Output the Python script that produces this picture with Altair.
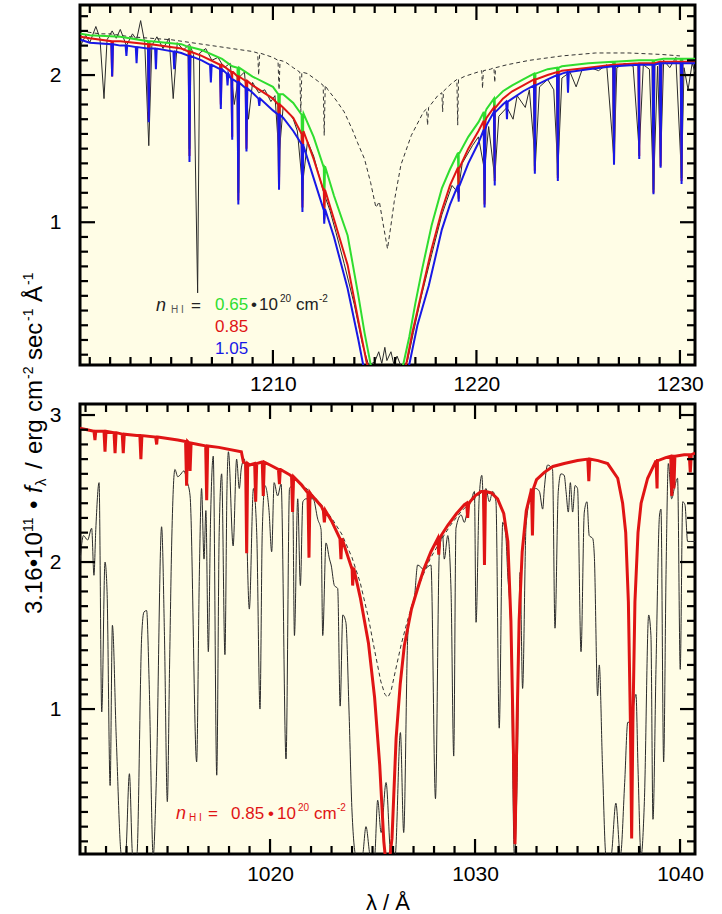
import altair as alt
import pandas as pd

# ---------------- top panel (Ly alpha) ----------------
TOP_X_DOMAIN = [1200.52, 1230.74]
TOP_Y_DOMAIN = [0.03, 2.476]

GREEN_TOP = [(1200.55,2.28),(1201,2.27),(1202.5,2.26),(1204,2.23),(1205.5,2.21),(1206.5,2.17),(1207.5,2.11),(1208,2.06),(1209,1.99),(1210,1.92),(1210.5,1.87),(1211,1.81),(1211.5,1.74),(1212,1.58),(1212.5,1.39),(1213,1.18),(1213.67,0.91),(1214.2,0.50),(1214.5,0.25),(1214.85,0.0),(1216.35,0.0),(1216.7,0.22),(1217.0,0.45),(1217.33,0.68),(1217.8,0.98),(1218.3,1.23),(1218.7,1.36),(1219.13,1.47),(1219.6,1.58),(1220.1,1.68),(1220.5,1.77),(1220.9,1.84),(1221.3,1.89),(1221.76,1.93),(1222.3,1.97),(1222.9,2.01),(1223.5,2.04),(1224.2,2.06),(1225.5,2.08),(1226.7,2.09),(1228,2.10),(1229.2,2.11),(1230.74,2.11)]
RED_TOP = [(1200.55,2.26),(1201,2.25),(1202.5,2.23),(1204,2.21),(1205.5,2.18),(1206.5,2.13),(1207.5,2.07),(1208,2.02),(1209,1.93),(1210,1.84),(1210.5,1.78),(1211,1.71),(1211.5,1.62),(1212,1.43),(1212.5,1.23),(1213,1.02),(1213.67,0.71),(1214.2,0.33),(1214.6,0.05),(1214.7,0.0),(1216.5,0.0),(1216.85,0.25),(1217.3,0.52),(1217.8,0.82),(1218.3,1.08),(1218.7,1.25),(1219.13,1.37),(1219.6,1.50),(1220.1,1.62),(1220.5,1.71),(1220.9,1.78),(1221.3,1.84),(1221.76,1.89),(1222.3,1.93),(1222.9,1.97),(1223.5,2.00),(1224.2,2.03),(1225.5,2.05),(1226.7,2.07),(1228,2.08),(1229.2,2.09),(1230.74,2.09)]
BLUE_TOP = [(1200.55,2.24),(1201,2.22),(1202.5,2.20),(1204,2.18),(1205.5,2.15),(1206.5,2.10),(1207.5,2.04),(1208,1.97),(1209,1.88),(1210,1.76),(1210.5,1.71),(1211,1.62),(1211.5,1.52),(1212,1.30),(1212.5,1.09),(1213,0.90),(1213.67,0.55),(1214.2,0.20),(1214.45,0.02),(1214.5,0.0),(1216.65,0.0),(1217.1,0.30),(1217.66,0.57),(1218.3,0.95),(1218.7,1.12),(1219.13,1.25),(1219.6,1.40),(1220.1,1.54),(1220.5,1.66),(1220.9,1.75),(1221.3,1.80),(1221.76,1.84),(1222.3,1.89),(1222.9,1.93),(1223.5,1.97),(1224.2,2.01),(1225.5,2.04),(1226.7,2.06),(1228,2.07),(1229.2,2.08),(1230.74,2.08)]

# narrow absorption lines: (wavelength, shoulder flux, minimum flux)
BLUE_DIPS = [(1202.1,2.21,1.99),(1202.8,2.20,2.13),(1203.3,2.19,2.08),(1203.9,2.18,1.68),(1204.25,2.18,2.04),(1205.15,2.16,2.04),(1205.9,2.13,1.41),(1206.95,2.07,1.95),(1207.44,2.04,1.77),(1207.77,2.01,1.93),(1208.0,1.97,1.56),(1208.3,1.95,1.12),(1208.7,1.91,1.48),(1209.33,1.84,1.79),(1210.3,1.73,1.22),(1211.45,1.53,1.07),(1212.52,1.09,0.99),(1219.13,1.25,1.14),(1220.4,1.63,1.10),(1220.9,1.75,1.25),(1221.5,1.82,1.70),(1222.87,1.93,1.33),(1224.0,2.00,1.28),(1224.5,2.02,1.88),(1226.76,2.06,1.39),(1228.0,2.07,1.43),(1228.7,2.07,1.19),(1229.05,2.08,1.37),(1230.08,2.08,1.26)]
RED_DIPS = [(1202.1,2.23,1.99),(1203.9,2.21,1.70),(1205.9,2.16,1.45),(1207.44,2.07,1.80),(1208.0,2.02,1.58),(1208.3,1.99,1.15),(1208.7,1.96,1.50),(1210.3,1.80,1.25),(1211.45,1.60,1.10),(1212.52,1.22,1.02),(1219.13,1.37,1.16),(1220.4,1.69,1.12),(1220.9,1.78,1.28),(1222.87,1.97,1.35),(1224.0,2.02,1.30),(1226.76,2.07,1.40),(1228.0,2.08,1.45),(1228.7,2.08,1.20),(1229.05,2.09,1.38),(1230.08,2.09,1.28)]
GREEN_DIPS = [(1203.9,2.23,1.75),(1205.9,2.19,1.50),(1208.3,2.05,1.20),(1210.3,1.87,1.30),(1211.45,1.73,1.15),(1212.52,1.38,1.10),(1219.13,1.47,1.20),(1220.4,1.75,1.15),(1220.9,1.84,1.30),(1222.87,2.01,1.38),(1224.0,2.05,1.32),(1226.76,2.09,1.42),(1228.7,2.10,1.22),(1230.08,2.11,1.30)]

DASHED_TOP = [(1200.55,2.30),(1201.0,2.29),(1201.5,2.28),(1202,2.28),(1203,2.26),(1204,2.25),(1205,2.24),(1206,2.22),(1207,2.20),(1208,2.18),(1209,2.16),(1209.25,2.15),(1209.3,2.00),(1209.35,2.15),(1210,2.12),(1210.25,2.10),(1210.3,1.90),(1210.35,2.10),(1210.6,2.09),(1211.0,2.05),(1211.32,2.02),(1211.37,1.75),(1211.42,2.02),(1211.7,2.01),(1212.2,1.96),(1212.47,1.93),(1212.52,1.59),(1212.57,1.93),(1212.7,1.90),(1213.1,1.83),(1213.5,1.75),(1213.9,1.63),(1214.16,1.54),(1214.5,1.43),(1214.8,1.27),(1215.06,1.10),(1215.23,1.14),(1215.4,1.00),(1215.63,0.82),(1215.8,0.98),(1215.96,1.14),(1216.29,1.39),(1216.8,1.59),(1217.4,1.75),(1217.55,1.77),(1217.6,1.66),(1217.65,1.78),(1218.1,1.86),(1218.3,1.88),(1218.34,1.75),(1218.38,1.89),(1218.75,1.94),(1219.04,1.97),(1219.08,1.66),(1219.12,1.97),(1219.4,1.99),(1220.06,2.02),(1220.26,2.03),(1220.3,1.91),(1220.34,2.03),(1220.7,2.04),(1220.86,2.05),(1220.9,1.95),(1220.94,2.05),(1221.5,2.07),(1222.6,2.10),(1224.2,2.13),(1225.85,2.15),(1227.5,2.15),(1229.1,2.14),(1230.0,2.13)]

BLACK_TOP = [(1200.55,2.20),(1200.8,2.27),(1201.0,2.22),(1201.3,2.33),(1201.5,2.25),(1201.7,1.84),(1201.85,2.24),(1202.1,2.30),(1202.3,2.25),(1202.5,2.31),(1202.8,2.20),(1203.1,2.28),(1203.3,2.24),(1203.5,2.37),(1203.7,2.22),(1203.9,1.52),(1204.05,2.20),(1204.3,2.26),(1204.6,2.18),(1204.9,2.25),(1205.1,1.84),(1205.3,2.22),(1205.6,2.17),(1205.9,2.21),(1206.1,2.14),(1206.3,0.52),(1206.4,2.15),(1206.7,2.18),(1207.0,2.10),(1207.3,2.12),(1207.6,2.05),(1207.9,2.08),(1208.1,1.80),(1208.3,1.98),(1208.6,2.02),(1208.8,1.70),(1209.0,1.95),(1209.3,1.88),(1209.6,1.90),(1209.9,1.82),(1210.1,1.86),(1210.3,1.45),(1210.5,1.78),(1210.8,1.74),(1211.0,1.70),(1211.2,1.62),(1211.45,1.25),(1211.7,1.55),(1212.0,1.45),(1212.3,1.30),(1212.5,1.20),(1212.8,1.08),(1213.1,0.93),(1213.5,0.72),(1214.0,0.44),(1214.4,0.17),(1214.7,0.03),(1215.0,0.05),(1215.2,0.12),(1215.35,0.04),(1215.5,0.15),(1215.6,0.06),(1215.8,0.12),(1215.95,0.03),(1216.1,0.09),(1216.3,0.02),(1216.6,0.05),(1216.9,0.25),(1217.3,0.50),(1217.8,0.78),(1218.3,1.05),(1218.8,1.25),(1219.1,1.20),(1219.3,1.40),(1219.8,1.52),(1220.1,1.58),(1220.4,1.35),(1220.6,1.65),(1220.9,1.30),(1221.1,1.72),(1221.5,1.78),(1221.8,1.70),(1222.0,1.86),(1222.4,1.78),(1222.6,1.90),(1222.9,1.40),(1223.1,1.92),(1223.5,1.97),(1223.8,1.90),(1224.0,1.35),(1224.2,1.98),(1224.6,2.02),(1224.9,1.92),(1225.2,2.04),(1225.6,2.05),(1226.0,2.03),(1226.4,2.07),(1226.76,1.42),(1226.9,2.05),(1227.3,2.08),(1227.7,2.06),(1228.0,1.48),(1228.2,2.07),(1228.5,2.04),(1228.7,1.22),(1228.9,2.06),(1229.05,1.40),(1229.2,2.10),(1229.5,2.05),(1229.8,2.12),(1230.08,1.30),(1230.2,2.05),(1230.4,1.90),(1230.6,2.08),(1230.74,2.02)]

TOP_X_MAJOR = [1210, 1220, 1230]
TOP_X_MINOR = [v for v in range(1201, 1231) if v % 10 != 0]
TOP_Y_MAJOR = [1, 2]
TOP_Y_MINOR = [round(0.1 * i, 1) for i in range(1, 25) if i % 10 != 0]

# ---------------- bottom panel (Ly beta) ----------------
BOT_X_DOMAIN = [1010.73, 1040.73]
BOT_Y_DOMAIN = [0.014, 3.075]

RED_BOT = [(1010.73,2.91),(1011.5,2.89),(1012.5,2.88),(1013.5,2.86),(1014.5,2.85),(1015.5,2.83),(1016.5,2.80),(1017.5,2.78),(1018.6,2.75),(1018.7,2.68),(1019.0,2.66),(1019.6,2.68),(1020.0,2.66),(1020.5,2.63),(1021.0,2.59),(1021.5,2.53),(1022.0,2.46),(1022.5,2.38),(1023.0,2.28),(1023.5,2.15),(1024.0,1.97),(1024.4,1.76),(1024.8,1.45),(1025.1,1.08),(1025.35,0.62),(1025.55,0.10),(1025.62,0.0),(1025.85,0.0),(1025.95,0.12),(1026.15,0.80),(1026.35,1.17),(1026.55,1.43),(1026.9,1.68),(1027.2,1.82),(1027.5,1.95),(1027.85,2.07),(1028.3,2.17),(1028.67,2.25),(1029.1,2.33),(1029.48,2.39),(1030.0,2.45),(1030.3,2.48),(1030.8,2.47),(1031.1,2.43),(1031.4,2.33),(1031.6,2.14),(1031.75,1.6),(1031.85,0.9),(1031.95,0.08),(1032.05,0.9),(1032.15,1.6),(1032.3,2.07),(1032.5,2.35),(1032.73,2.48),(1033.0,2.56),(1033.38,2.61),(1033.8,2.65),(1034.35,2.67),(1035.0,2.69),(1035.5,2.70),(1036.0,2.69),(1036.47,2.67),(1036.96,2.57),(1037.2,2.40),(1037.35,2.20),(1037.48,1.73),(1037.58,0.9),(1037.64,0.12),(1037.7,0.9),(1037.8,1.73),(1037.95,2.2),(1038.1,2.40),(1038.42,2.57),(1038.9,2.69),(1039.3,2.71),(1039.64,2.72),(1040.2,2.73),(1040.73,2.74)]
RED_BOT_DIPS = [(1011.46,2.89,2.83),(1011.95,2.89,2.75),(1012.44,2.88,2.74),(1012.84,2.87,2.74),(1013.7,2.86,2.70),(1014.47,2.85,2.80),(1015.93,2.82,2.52),(1016.1,2.81,2.62),(1016.91,2.79,2.42),(1018.86,2.67,2.06),(1019.3,2.67,2.41),(1019.67,2.68,2.45),(1020.46,2.63,2.53),(1021.1,2.58,2.34),(1021.9,2.47,2.03),(1022.65,2.35,2.27),(1023.46,2.16,2.02),(1024.03,1.96,1.84),(1028.23,2.16,2.05),(1029.64,2.40,2.30),(1030.46,2.48,1.98),(1032.8,2.50,2.18),(1035.55,2.70,2.55),(1038.88,2.69,2.50),(1039.6,2.72,2.45),(1039.7,2.72,2.50),(1040.5,2.73,2.61)]

DASHED_BOT = [(1021.5,2.54),(1022.0,2.47),(1022.5,2.39),(1023.0,2.30),(1023.5,2.19),(1024.0,2.03),(1024.4,1.86),(1024.8,1.62),(1025.1,1.40),(1025.4,1.19),(1025.6,1.10),(1025.75,1.08),(1025.9,1.12),(1026.1,1.25),(1026.4,1.44),(1026.7,1.60),(1027.0,1.74),(1027.4,1.89),(1027.8,2.02),(1028.3,2.14),(1028.8,2.25),(1029.3,2.34),(1029.8,2.41),(1030.3,2.47)]

BLACK_BOT = [(1010.73,2.00),(1010.9,2.18),(1011.1,2.15),(1011.3,2.23),(1011.41,1.91),(1011.5,2.22),(1011.66,2.54),(1011.79,0.98),(1011.95,2.00),(1012.05,1.80),(1012.2,0.48),(1012.31,1.57),(1012.5,0.8),(1012.76,0.0),(1012.95,0.0),(1013.14,0.56),(1013.3,0.0),(1013.5,0.0),(1013.74,1.50),(1013.85,1.66),(1013.98,1.67),(1014.1,1.2),(1014.3,0.0),(1014.45,0.5),(1014.71,2.24),(1014.85,1.5),(1014.99,0.37),(1015.1,1.3),(1015.2,2.11),(1015.36,2.63),(1015.5,2.58),(1015.6,2.59),(1015.8,2.62),(1015.95,2.55),(1016.1,2.45),(1016.42,0.64),(1016.55,1.9),(1016.66,2.50),(1016.78,2.02),(1016.87,2.35),(1016.99,1.39),(1017.1,2.3),(1017.23,2.72),(1017.4,0.55),(1017.52,2.2),(1017.64,2.60),(1017.8,1.37),(1017.9,2.5),(1017.97,2.75),(1018.2,2.11),(1018.37,2.70),(1018.5,2.50),(1018.6,2.64),(1018.75,2.70),(1018.99,1.68),(1019.19,2.50),(1019.35,2.2),(1019.51,1.00),(1019.62,2.2),(1019.75,2.52),(1019.95,2.35),(1020.08,2.07),(1020.2,2.54),(1020.37,2.45),(1020.54,2.53),(1020.78,0.66),(1020.95,2.50),(1021.1,2.52),(1021.19,1.50),(1021.35,2.43),(1021.48,1.84),(1021.6,2.41),(1021.75,2.43),(1022.1,2.43),(1022.33,2.29),(1022.49,2.22),(1022.57,1.50),(1022.73,2.13),(1022.9,2.02),(1022.98,1.98),(1023.14,1.84),(1023.3,1.82),(1023.42,1.02),(1023.55,1.64),(1023.7,1.59),(1023.85,1.0),(1024.0,0.3),(1024.2,0.0),(1024.5,0.0),(1024.68,0.2),(1024.9,0.0),(1025.1,0.0),(1025.25,0.38),(1025.42,0.16),(1025.66,0.50),(1025.9,0.0),(1026.1,0.0),(1026.36,0.84),(1026.52,0.16),(1026.72,1.50),(1026.88,1.68),(1027.05,1.77),(1027.2,1.98),(1027.5,1.95),(1027.85,1.98),(1028.07,0.39),(1028.26,2.07),(1028.42,2.18),(1028.5,2.02),(1028.67,2.18),(1028.83,1.80),(1028.96,0.68),(1029.07,2.23),(1029.32,2.32),(1029.48,2.27),(1029.64,2.36),(1029.8,2.41),(1029.97,2.48),(1030.05,1.59),(1030.2,2.43),(1030.33,2.59),(1030.45,2.29),(1030.53,2.50),(1030.7,2.41),(1030.86,2.48),(1031.02,2.41),(1031.18,0.87),(1031.35,2.27),(1031.5,2.18),(1031.59,1.93),(1031.75,1.5),(1031.92,0.0),(1032.05,0.5),(1032.2,1.93),(1032.32,1.14),(1032.49,2.25),(1032.73,2.45),(1032.97,2.50),(1033.14,2.48),(1033.3,2.36),(1033.38,2.50),(1033.54,2.66),(1033.78,2.63),(1033.9,1.55),(1034.06,2.48),(1034.19,2.60),(1034.35,2.59),(1034.44,2.48),(1034.55,2.34),(1034.65,2.54),(1034.76,2.34),(1034.88,2.52),(1035.0,2.50),(1035.17,1.39),(1035.33,2.34),(1035.46,2.41),(1035.57,2.18),(1035.74,2.16),(1035.82,2.04),(1035.98,1.09),(1036.06,1.30),(1036.22,0.6),(1036.39,0.0),(1036.63,0.0),(1036.87,0.36),(1037.09,0.0),(1037.3,0.5),(1037.45,0.91),(1037.58,0.91),(1037.85,1.10),(1037.95,0.6),(1038.1,0.0),(1038.26,0.37),(1038.47,1.64),(1038.58,1.5),(1038.68,0.25),(1038.83,1.3),(1039.0,2.32),(1039.07,2.36),(1039.2,0.64),(1039.32,1.95),(1039.43,2.67),(1039.59,2.43),(1039.72,2.50),(1039.88,2.57),(1040.01,1.27),(1040.13,2.41),(1040.24,2.39),(1040.37,2.14),(1040.53,2.14),(1040.73,2.14)]

BOT_X_MAJOR = [1020, 1030, 1040]
BOT_X_MINOR = [v for v in range(1011, 1041) if v % 10 != 0]
BOT_Y_MAJOR = [1, 2, 3]
BOT_Y_MINOR = [round(0.1 * i, 1) for i in range(1, 31) if i % 10 != 0]

FONT = "Liberation Sans"
CREAM = "#FFFDE6"
GREEN = "#2FDD2F"
RED = "#E01414"
BLUE = "#1818E6"
BLACK_LINE = "#2a2a2a"

TOP_W, TOP_H = 615, 360
BOT_W, BOT_H = 615, 450


def with_dips(cont, dips, hw):
    pts = list(cont)
    for lam, sh, mn in dips:
        pts += [(lam - hw, sh), (lam, mn), (lam + hw, sh)]
    pts.sort()
    return pd.DataFrame(pts, columns=["wl", "f"])


def df_of(pts):
    return pd.DataFrame(sorted(pts), columns=["wl", "f"])


def line(df, xs, ys, ax, ay, color, width, dash=None, interp="linear"):
    kw = dict(color=color, strokeWidth=width, clip=True, interpolate=interp)
    if dash:
        kw["strokeDash"] = dash
    return alt.Chart(df).mark_line(**kw).encode(
        x=alt.X("wl:Q", scale=xs, axis=ax),
        y=alt.Y("f:Q", scale=ys, axis=ay),
        order="wl:Q",
    )


def tick_layers(xs, ys, ax, ay, W, H, xmaj, xmin, ymaj, ymin):
    layers = []
    for vals, L in [(xmin, 8), (xmaj, 15)]:
        base = alt.Chart(pd.DataFrame({"wl": vals})).mark_rule(color="black", strokeWidth=2.2)
        X = alt.X("wl:Q", scale=xs, axis=ax)
        layers.append(base.encode(x=X, y=alt.value(H), y2=alt.value(H - L)))
        layers.append(base.encode(x=X, y=alt.value(0), y2=alt.value(L)))
    for vals, L in [(ymin, 8), (ymaj, 15)]:
        base = alt.Chart(pd.DataFrame({"f": vals})).mark_rule(color="black", strokeWidth=2.2)
        Y = alt.Y("f:Q", scale=ys, axis=ay)
        layers.append(base.encode(y=Y, x=alt.value(0), x2=alt.value(L)))
        layers.append(base.encode(y=Y, x=alt.value(W), x2=alt.value(W - L)))
    return layers


ONE = pd.DataFrame({"k": [0]})


def txt(s, x, y, size=17, color="#222222", style="normal", align="left", baseline="alphabetic", angle=0):
    return alt.Chart(ONE).mark_text(
        text=s, fontSize=size, color=color, fontStyle=style, align=align,
        baseline=baseline, font=FONT, angle=angle
    ).encode(x=alt.value(x), y=alt.value(y))


# y-axis title pieces: (text, start y on page, size, italic, shift) ; shift: 0 base, 1 sup, -1 sub
YTITLE = [("3.16•10", 612, 24, False, 0), ("11", 530, 14, False, 1), ("•", 507, 24, False, 0),
          ("f", 491, 24, True, 0), ("λ", 484, 15, False, -1), ("/", 467, 24, False, 0),
          ("erg", 452, 24, False, 0), ("cm", 410, 24, False, 0), ("-2", 377, 14, False, 1),
          ("sec", 358, 24, False, 0), ("-1", 319, 14, False, 1), ("Å", 300, 24, False, 0),
          ("-1", 283, 14, False, 1)]


def ytitle_layers(ox, oy):
    out = []
    for s, ystart, size, ital, shift in YTITLE:
        bx = 40.5 - 9 * (shift == 1) + 4 * (shift == -1)
        out.append(txt(s, bx - ox, ystart - oy, size=size, color="black",
                       style="italic" if ital else "normal", angle=270))
    return out


# ---------- top panel ----------
xs_t = alt.Scale(domain=TOP_X_DOMAIN, nice=False, zero=False)
ys_t = alt.Scale(domain=TOP_Y_DOMAIN, nice=False, zero=False)
ax_xt = alt.Axis(values=TOP_X_MAJOR, format="d", ticks=False, domain=False, grid=False,
                 labelPadding=8, title=None)
ax_yt = alt.Axis(values=TOP_Y_MAJOR, format="d", ticks=False, domain=False, grid=False,
                 labelPadding=19, title=None)

top_layers = [
    line(df_of(BLACK_TOP), xs_t, ys_t, ax_xt, ax_yt, BLACK_LINE, 1.0),
    line(df_of(DASHED_TOP), xs_t, ys_t, ax_xt, ax_yt, "#333333", 1.0, dash=[4, 3]),
    line(with_dips(GREEN_TOP, GREEN_DIPS, 0.04), xs_t, ys_t, ax_xt, ax_yt, GREEN, 2.0),
    line(with_dips(RED_TOP, RED_DIPS, 0.04), xs_t, ys_t, ax_xt, ax_yt, RED, 2.0),
    line(with_dips(BLUE_TOP, BLUE_DIPS, 0.04), xs_t, ys_t, ax_xt, ax_yt, BLUE, 2.0),
]
top_layers += tick_layers(xs_t, ys_t, ax_xt, ax_yt, TOP_W, TOP_H, TOP_X_MAJOR, TOP_X_MINOR, TOP_Y_MAJOR, TOP_Y_MINOR)

ox, oy = 79, 3
top_layers += [
    txt("n", 155 - ox, 309 - oy, size=18, style="italic"),
    txt("H I", 170 - ox, 311 - oy, size=10, color="#555555"),
    txt("=", 190 - ox, 309 - oy, size=17),
    txt("0.65", 214 - ox, 308 - oy, size=17, color=GREEN),
    txt("•", 250 - ox, 308 - oy, size=17),
    txt("10", 258 - ox, 308 - oy, size=17),
    txt("20", 279 - ox, 300 - oy, size=10),
    txt("cm", 295 - ox, 308 - oy, size=17),
    txt("-2", 318 - ox, 300 - oy, size=10),
    txt("0.85", 214 - ox, 330 - oy, size=17, color=RED),
    txt("1.05", 214 - ox, 352 - oy, size=17, color=BLUE),
]
top_layers += ytitle_layers(ox, oy)

top = alt.layer(*top_layers).properties(width=TOP_W, height=TOP_H)

# ---------- bottom panel ----------
xs_b = alt.Scale(domain=BOT_X_DOMAIN, nice=False, zero=False)
ys_b = alt.Scale(domain=BOT_Y_DOMAIN, nice=False, zero=False)
ax_xb = alt.Axis(values=BOT_X_MAJOR, format="d", ticks=False, domain=False, grid=False,
                 labelPadding=9, title="λ / Å", titlePadding=8)
ax_yb = alt.Axis(values=BOT_Y_MAJOR, format="d", ticks=False, domain=False, grid=False,
                 labelPadding=19, title=None)

bot_layers = [
    line(df_of(BLACK_BOT), xs_b, ys_b, ax_xb, ax_yb, BLACK_LINE, 1.0, interp="monotone"),
    line(df_of(DASHED_BOT), xs_b, ys_b, ax_xb, ax_yb, "#333333", 1.0, dash=[4, 3]),
    line(with_dips(RED_BOT, RED_BOT_DIPS, 0.05), xs_b, ys_b, ax_xb, ax_yb, RED, 3.0),
]
bot_layers += tick_layers(xs_b, ys_b, ax_xb, ax_yb, BOT_W, BOT_H, BOT_X_MAJOR, BOT_X_MINOR, BOT_Y_MAJOR, BOT_Y_MINOR)

ox, oy = 79, 402
bot_layers += [
    txt("n", 175 - ox, 817 - oy, size=18, style="italic", color=RED),
    txt("H I", 188 - ox, 819 - oy, size=10, color=RED),
    txt("=", 207 - ox, 817 - oy, size=17, color=RED),
    txt("0.85", 230 - ox, 817 - oy, size=17, color=RED),
    txt("•", 267 - ox, 817 - oy, size=17, color=RED),
    txt("10", 276 - ox, 817 - oy, size=17, color=RED),
    txt("20", 297 - ox, 809 - oy, size=10, color=RED),
    txt("cm", 313 - ox, 817 - oy, size=17, color=RED),
    txt("-2", 336 - ox, 809 - oy, size=10, color=RED),
]

bot = alt.layer(*bot_layers).properties(width=BOT_W, height=BOT_H)

chart = alt.vconcat(top, bot, spacing=39, bounds="flush").properties(
    padding={"left": 20, "top": 2, "right": 5, "bottom": 5},
    background="white",
).configure_view(
    stroke="black", strokeWidth=3, fill=CREAM
).configure_axis(
    labelFont=FONT, labelFontSize=21, labelColor="black",
    titleFont=FONT, titleFontSize=22, titleFontWeight="normal", titleColor="black",
)

chart.save("out.html", embed_options={"renderer": "svg", "actions": False})
